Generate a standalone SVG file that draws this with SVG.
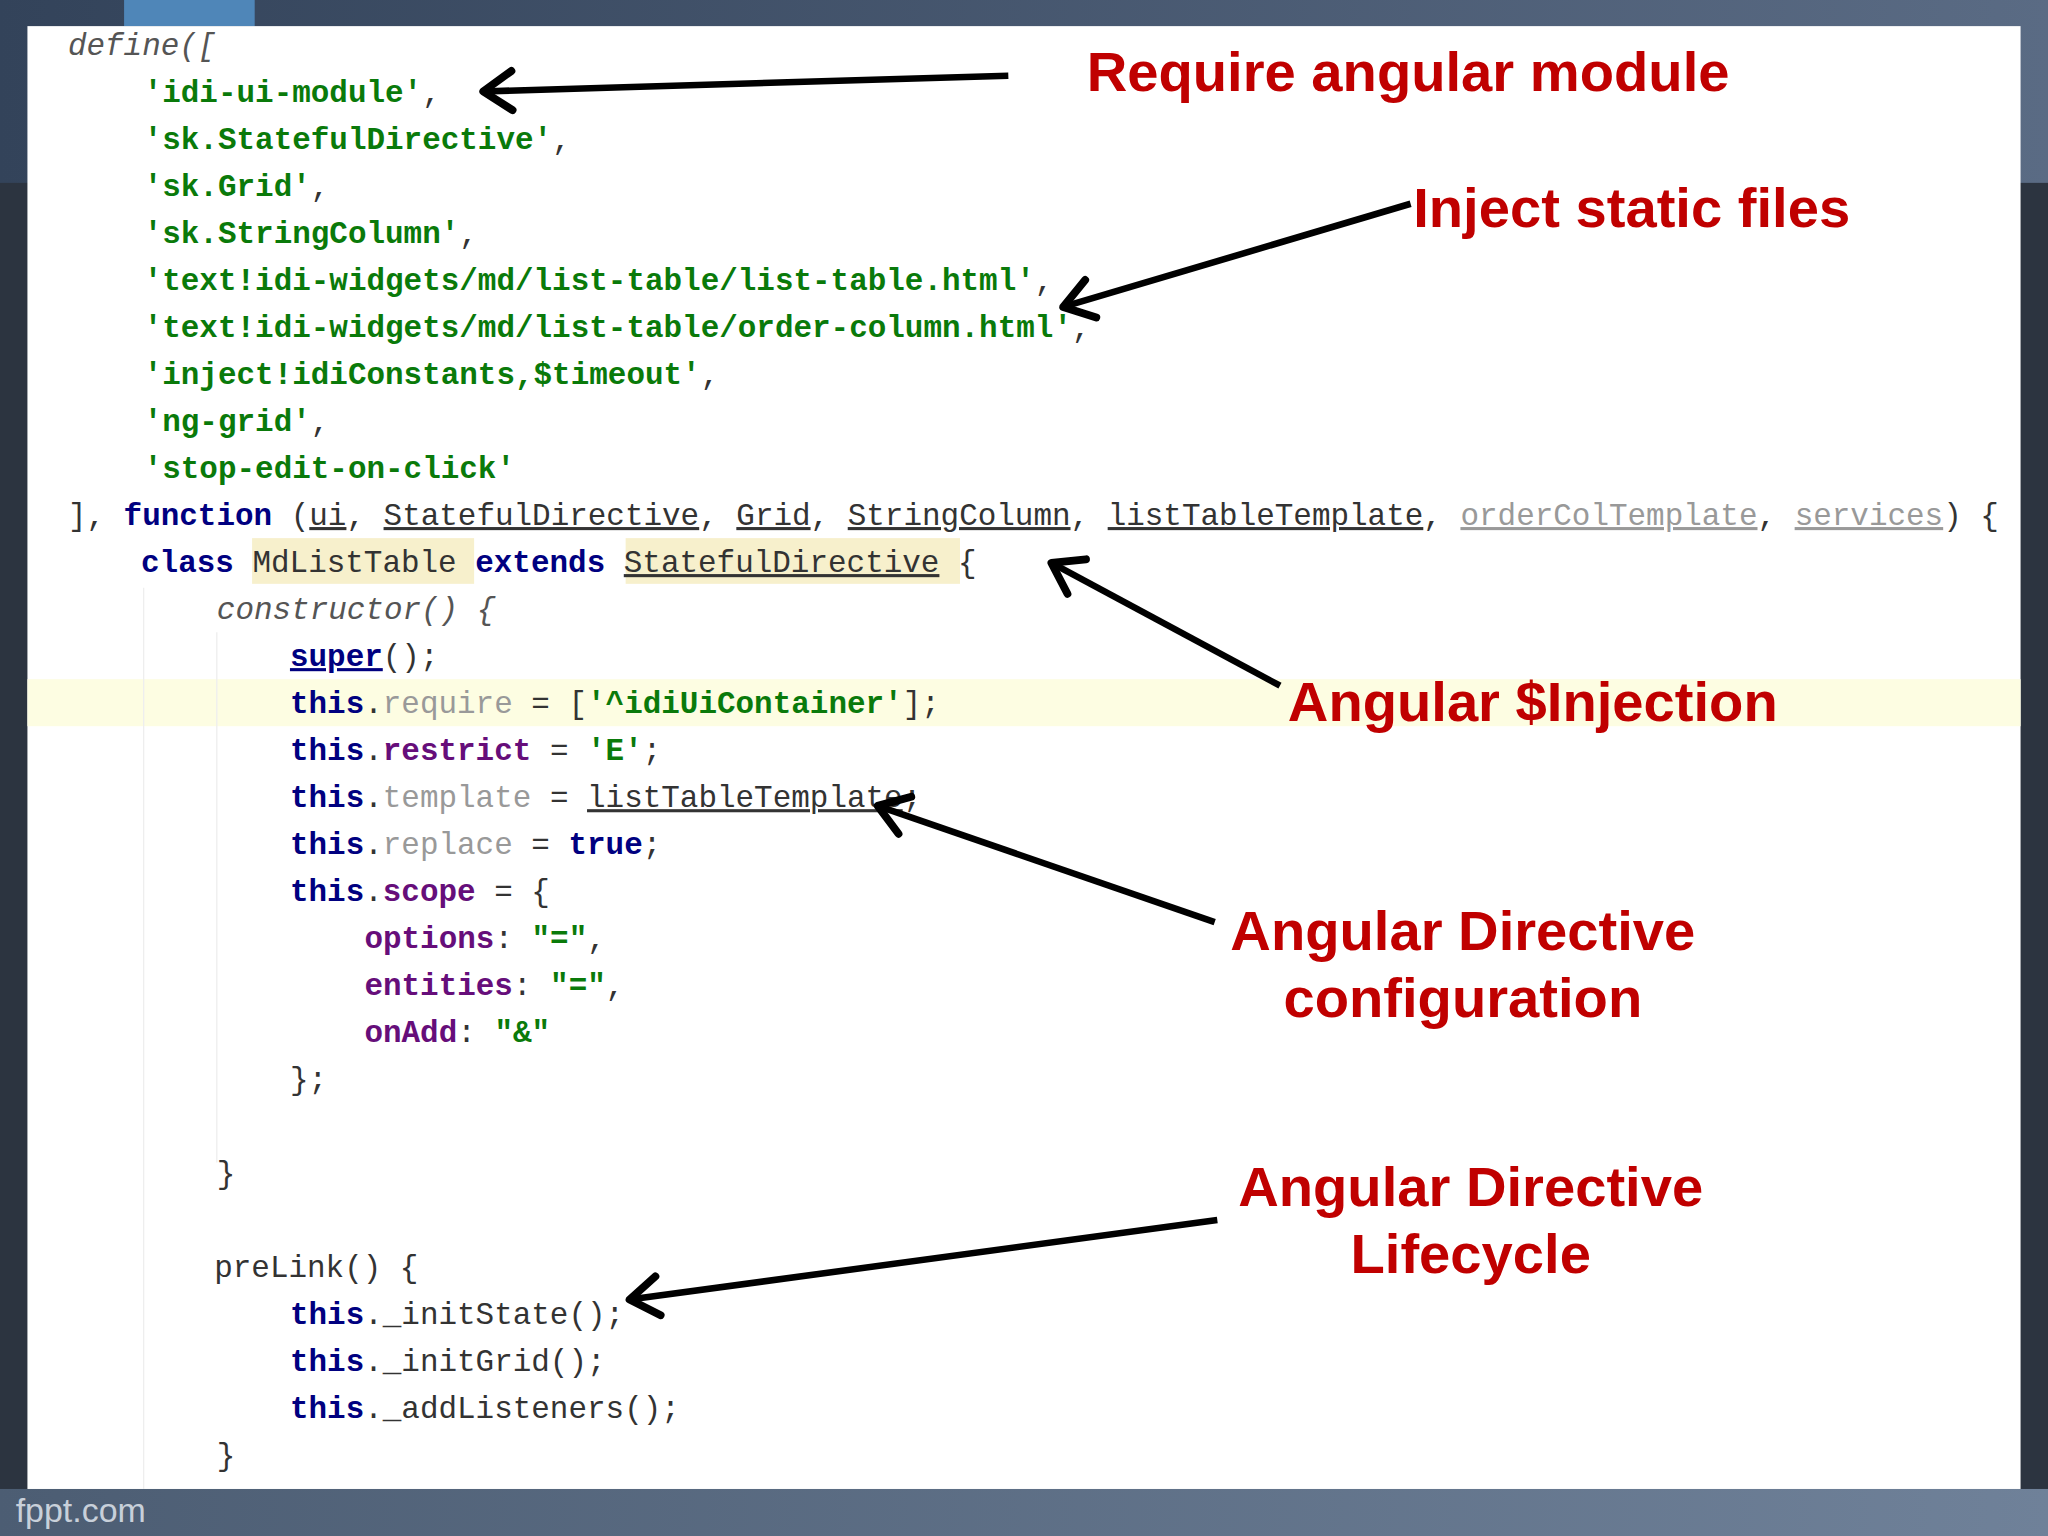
<svg xmlns="http://www.w3.org/2000/svg" width="2048" height="1536" viewBox="0 0 2048 1536">
<defs>
<linearGradient id="bot" x1="0" y1="0" x2="1" y2="0"><stop offset="0" stop-color="#4c5d73"/><stop offset="1" stop-color="#6f8199"/></linearGradient>
<linearGradient id="top" x1="0" y1="0" x2="1" y2="0"><stop offset="0" stop-color="#33435a"/><stop offset="1" stop-color="#5a6b84"/></linearGradient>
<marker id="ah" markerUnits="userSpaceOnUse" viewBox="-30 -20 36 40" refX="0" refY="0" markerWidth="36" markerHeight="40" orient="auto">
<polyline points="-22,-15 0,0 -22,15" fill="none" stroke="#000" stroke-width="6" stroke-linecap="round" stroke-linejoin="round"/>
</marker>
<style>
.c{font-family:"Liberation Mono","DejaVu Sans Mono",monospace;font-size:23.7px;fill:#333}
.s{fill:#0a7a0a;font-weight:bold}
.k{fill:#000080;font-weight:bold}
.p{fill:#660e7a;font-weight:bold}
.g{fill:#999}
.u{text-decoration:underline}
.lg{fill:#999;text-decoration:underline}
.i{font-style:italic;fill:#555}
.a{font-family:"Liberation Sans",Arial,sans-serif;font-weight:bold;font-size:43px;fill:#c00000}
.ar{stroke:#000;stroke-width:5;fill:none;marker-end:url(#ah)}
</style>
</defs>
<g transform="scale(1.30612)">
<rect width="1568" height="1176" fill="#2c3440"/>
<rect width="1568" height="140" fill="url(#top)"/>
<rect x="95" y="0" width="100" height="20" fill="#4f86b8"/>
<rect x="0" y="1140" width="1568" height="36" fill="url(#bot)"/>
<text x="12" y="1165" font-family="Liberation Sans,Arial,sans-serif" font-size="26" fill="#c8d0da">fppt.com</text>
<rect x="21" y="20" width="1526" height="1120" fill="#fff"/>
<rect x="21" y="520" width="1526" height="36" fill="#fdfde2"/>
<rect x="193" y="412" width="170" height="35" fill="#f7f0cc"/>
<rect x="479" y="412" width="256" height="35" fill="#f7f0cc"/>
<line x1="110" y1="450" x2="110" y2="1140" stroke="#eee" stroke-width="1"/>
<line x1="166" y1="484" x2="166" y2="890" stroke="#eee" stroke-width="1"/>

<g id="code" class="c">
<text x="52" y="42" class="i">define([</text>
<text x="110" y="78" class="s">'idi-ui-module'<tspan fill="#333" font-weight="normal">,</tspan></text>
<text x="110" y="114" class="s">'sk.StatefulDirective'<tspan fill="#333" font-weight="normal">,</tspan></text>
<text x="110" y="150" class="s">'sk.Grid'<tspan fill="#333" font-weight="normal">,</tspan></text>
<text x="110" y="186" class="s">'sk.StringColumn'<tspan fill="#333" font-weight="normal">,</tspan></text>
<text x="110" y="222" class="s">'text!idi-widgets/md/list-table/list-table.html'<tspan fill="#333" font-weight="normal">,</tspan></text>
<text x="110" y="258" class="s">'text!idi-widgets/md/list-table/order-column.html'<tspan fill="#333" font-weight="normal">,</tspan></text>
<text x="110" y="294" class="s">'inject!idiConstants,$timeout'<tspan fill="#333" font-weight="normal">,</tspan></text>
<text x="110" y="330" class="s">'ng-grid'<tspan fill="#333" font-weight="normal">,</tspan></text>
<text x="110" y="366" class="s">'stop-edit-on-click'</text>
<text x="52" y="402">], <tspan class="k">function</tspan> (<tspan class="u">ui</tspan>, <tspan class="u">StatefulDirective</tspan>, <tspan class="u">Grid</tspan>, <tspan class="u">StringColumn</tspan>, <tspan class="u">listTableTemplate</tspan>, <tspan class="lg">orderColTemplate</tspan>, <tspan class="lg">services</tspan>) {</text>
<text x="108" y="438"><tspan class="k">class</tspan> MdListTable <tspan class="k">extends</tspan> <tspan class="u">StatefulDirective</tspan> {</text>
<text x="166" y="474" class="i">constructor() {</text>
<text x="222" y="510"><tspan class="k u">super</tspan>();</text>
<text x="222" y="546"><tspan class="k">this</tspan>.<tspan class="g">require</tspan> = [<tspan class="s">'^idiUiContainer'</tspan>];</text>
<text x="222" y="582"><tspan class="k">this</tspan>.<tspan class="p">restrict</tspan> = <tspan class="s">'E'</tspan>;</text>
<text x="222" y="618"><tspan class="k">this</tspan>.<tspan class="g">template</tspan> = <tspan class="u">listTableTemplate</tspan>;</text>
<text x="222" y="654"><tspan class="k">this</tspan>.<tspan class="g">replace</tspan> = <tspan class="k">true</tspan>;</text>
<text x="222" y="690"><tspan class="k">this</tspan>.<tspan class="p">scope</tspan> = {</text>
<text x="279" y="726"><tspan class="p">options</tspan>: <tspan class="s">"="</tspan>,</text>
<text x="279" y="762"><tspan class="p">entities</tspan>: <tspan class="s">"="</tspan>,</text>
<text x="279" y="798"><tspan class="p">onAdd</tspan>: <tspan class="s">"&amp;"</tspan></text>
<text x="222" y="834">};</text>
<text x="166" y="906">}</text>
<text x="164" y="978">preLink() {</text>
<text x="222" y="1014"><tspan class="k">this</tspan>._initState();</text>
<text x="222" y="1050"><tspan class="k">this</tspan>._initGrid();</text>
<text x="222" y="1086"><tspan class="k">this</tspan>._addListeners();</text>
<text x="166" y="1122">}</text>
</g>

<g id="connectors">
<line class="ar" x1="772" y1="58" x2="370" y2="70"/>
<line class="ar" x1="1080" y1="156" x2="814" y2="235"/>
<line class="ar" x1="980" y1="525" x2="805" y2="431"/>
<line class="ar" x1="930" y1="706" x2="672" y2="617"/>
<line class="ar" x1="932" y1="934" x2="482" y2="995"/>
</g>

<g id="n1"><text class="a" x="832" y="70">Require angular module</text></g>
<g id="n2"><text class="a" x="1082" y="174">Inject static files</text></g>
<g id="n3"><text class="a" x="986" y="552">Angular $Injection</text></g>
<g id="n4"><text class="a" x="1120" y="727" text-anchor="middle">Angular Directive</text><text class="a" x="1120" y="779" text-anchor="middle">configuration</text></g>
<g id="n5"><text class="a" x="1126" y="923" text-anchor="middle">Angular Directive</text><text class="a" x="1126" y="975" text-anchor="middle">Lifecycle</text></g>
</g>
</svg>
